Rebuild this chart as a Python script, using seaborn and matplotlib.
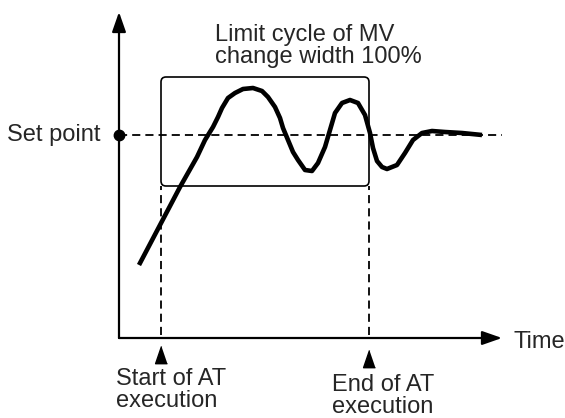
import matplotlib
matplotlib.use("Agg")
import matplotlib.pyplot as plt
from matplotlib.patches import FancyBboxPatch
import pandas as pd
import seaborn as sns

# Process value response during auto-tuning (time, PV in drawing units)
time = [20, 61, 78, 86, 94, 99, 103, 109, 116, 124, 134, 143, 149, 156, 161,
        164, 169, 174, 179, 186, 193, 199, 206, 211, 216, 223, 231, 239, 246,
        251, 254, 258, 263, 268, 278, 286, 294, 303, 313, 326, 343, 363]
pv = [73, 151, 181, 198, 211, 221, 230, 240, 245, 249, 250, 247, 241, 231, 220,
      210, 198, 186, 178, 168, 167, 175, 191, 208, 225, 235, 238, 235, 223,
      205, 190, 177, 171, 169, 173, 185, 198, 205, 207, 206, 205, 203]

set_point = 203
at_start, at_end = 42, 250          # AT execution window on the time axis
cycle_low, cycle_high = 152, 261    # limit-cycle band
time_axis_end, pv_axis_end = 383, 326

labels_at = ["Start of AT\nexecution", "End of AT\nexecution"]
cycle_label = "Limit cycle of MV\nchange width 100%"

sns.set_theme(style="white")
plt.rcParams["font.family"] = ["Liberation Sans", "DejaVu Sans"]

fig = plt.figure(figsize=(5.65, 4.18), dpi=100)
ax = fig.add_axes([0, 0, 1, 1])

FS = 17
dash = (0, (4.5, 2.8))

# axes with arrow heads
arrow_style = "-|>,head_length=1.2,head_width=0.42"
for tip in [(time_axis_end, 0), (0, pv_axis_end)]:
    ax.annotate("", xy=tip, xytext=(0, 0),
                arrowprops=dict(arrowstyle=arrow_style, color="black", lw=1.6,
                                mutation_scale=10, shrinkA=0, shrinkB=0))

# set point reference
ax.plot([0, time_axis_end], [set_point, set_point], color="black", lw=1.3,
        ls=dash, zorder=2)
ax.plot([0], [set_point], "o", color="black", ms=7.5, zorder=5)
ax.text(-18, set_point, "Set point", ha="right", va="center", fontsize=FS)

# limit cycle frame
box = FancyBboxPatch((at_start, cycle_low), at_end - at_start,
                     cycle_high - cycle_low,
                     boxstyle="round,pad=0,rounding_size=5",
                     fill=False, ec="black", lw=1.2, zorder=3)
ax.add_patch(box)
ax.text(96, 314, cycle_label, ha="left", va="top", fontsize=FS,
        linespacing=0.98)

# AT start / end markers
tri = [(0, 1.1), (-0.72, -1), (0.72, -1)]
for t in (at_start, at_end):
    ax.plot([t, t], [3, cycle_low], color="black", lw=1.3, ls=dash, zorder=2)
ax.plot([at_start], [-17], marker=tri, color="black", ms=13, ls="none")
ax.plot([at_end], [-21], marker=tri, color="black", ms=13, ls="none")
ax.text(-3, -30, labels_at[0], ha="left", va="top", fontsize=FS,
        linespacing=0.98)
ax.text(213, -36, labels_at[1], ha="left", va="top", fontsize=FS,
        linespacing=0.98)

ax.text(394, -4, "Time", ha="left", va="center", fontsize=FS)

# PV response curve
df = pd.DataFrame({"time": time, "pv": pv})
sns.lineplot(data=df, x="time", y="pv", ax=ax, color="black", lw=3.3,
             sort=False, zorder=4)
ax.lines[-1].set_solid_joinstyle("round")
ax.lines[-1].set_solid_capstyle("butt")

ax.set_xlim(-119, 446)
ax.set_ylim(-80, 338)
ax.axis("off")
fig.savefig("out.png", dpi=100)
